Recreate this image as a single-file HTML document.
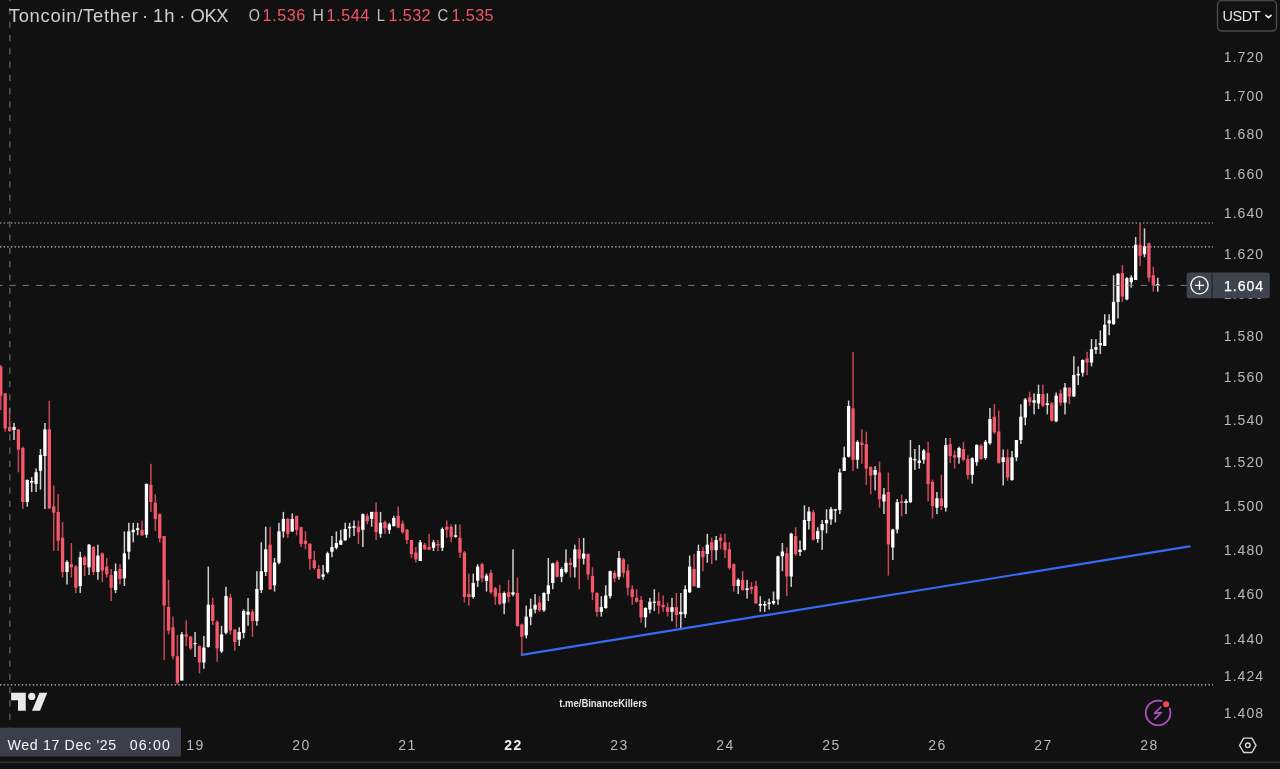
<!DOCTYPE html>
<html lang="en"><head><meta charset="utf-8"><title>TONUSDT 1h OKX</title>
<style>
html,body{margin:0;padding:0;background:#111111;}
body{width:1280px;height:769px;overflow:hidden;position:relative;font-family:"Liberation Sans",sans-serif;}
svg{position:absolute;left:0;top:0;display:block;will-change:transform;}
text{font-family:"Liberation Sans",sans-serif;}
.ax{font-size:14px;fill:#b9b9bb;}
.tm{font-size:14px;fill:#b9b9bb;}
</style></head><body>
<svg width="1280" height="769" viewBox="0 0 1280 769">
<line x1="0" y1="223.0" x2="1213" y2="223.0" stroke="#cdcdcd" stroke-width="1.2" stroke-dasharray="1.3 2.34"/>
<line x1="0" y1="246.9" x2="1213" y2="246.9" stroke="#cdcdcd" stroke-width="1.2" stroke-dasharray="1.3 2.34"/>
<line x1="0" y1="684.8" x2="1213" y2="684.8" stroke="#cdcdcd" stroke-width="1.2" stroke-dasharray="1.3 2.34"/>
<g style="filter:blur(0.3px)">
<rect x="0.00" y="365.0" width="1.5" height="45.0" fill="#f5586b" opacity="0.8"/>
<rect x="4.42" y="393.0" width="1.5" height="38.5" fill="#f5586b" opacity="0.8"/>
<rect x="8.83" y="408.0" width="1.5" height="24.0" fill="#f5586b" opacity="0.8"/>
<rect x="13.25" y="423.0" width="1.5" height="17.0" fill="#ffffff" opacity="0.8"/>
<rect x="17.66" y="429.4" width="1.5" height="42.9" fill="#f5586b" opacity="0.8"/>
<rect x="22.08" y="446.6" width="1.5" height="62.4" fill="#f5586b" opacity="0.8"/>
<rect x="26.50" y="479.4" width="1.5" height="27.3" fill="#ffffff" opacity="0.8"/>
<rect x="30.91" y="477.0" width="1.5" height="15.0" fill="#ffffff" opacity="0.8"/>
<rect x="35.33" y="468.4" width="1.5" height="23.6" fill="#ffffff" opacity="0.8"/>
<rect x="39.74" y="449.0" width="1.5" height="40.5" fill="#ffffff" opacity="0.8"/>
<rect x="44.16" y="423.0" width="1.5" height="86.0" fill="#ffffff" opacity="0.8"/>
<rect x="48.58" y="401.0" width="1.5" height="108.0" fill="#f5586b" opacity="0.8"/>
<rect x="52.99" y="485.6" width="1.5" height="65.4" fill="#f5586b" opacity="0.8"/>
<rect x="57.41" y="494.0" width="1.5" height="57.0" fill="#f5586b" opacity="0.8"/>
<rect x="61.82" y="522.0" width="1.5" height="55.5" fill="#f5586b" opacity="0.8"/>
<rect x="66.24" y="560.3" width="1.5" height="24.2" fill="#ffffff" opacity="0.8"/>
<rect x="70.66" y="543.0" width="1.5" height="34.5" fill="#f5586b" opacity="0.8"/>
<rect x="75.07" y="565.0" width="1.5" height="28.0" fill="#f5586b" opacity="0.8"/>
<rect x="79.49" y="551.7" width="1.5" height="41.3" fill="#ffffff" opacity="0.8"/>
<rect x="83.90" y="555.6" width="1.5" height="20.4" fill="#f5586b" opacity="0.8"/>
<rect x="88.32" y="544.0" width="1.5" height="31.0" fill="#ffffff" opacity="0.8"/>
<rect x="92.74" y="546.0" width="1.5" height="29.0" fill="#f5586b" opacity="0.8"/>
<rect x="97.15" y="544.7" width="1.5" height="35.1" fill="#ffffff" opacity="0.8"/>
<rect x="101.57" y="552.5" width="1.5" height="29.5" fill="#f5586b" opacity="0.8"/>
<rect x="105.98" y="558.0" width="1.5" height="19.5" fill="#f5586b" opacity="0.8"/>
<rect x="110.40" y="569.0" width="1.5" height="32.0" fill="#f5586b" opacity="0.8"/>
<rect x="114.82" y="563.4" width="1.5" height="29.6" fill="#ffffff" opacity="0.8"/>
<rect x="119.23" y="564.2" width="1.5" height="20.3" fill="#f5586b" opacity="0.8"/>
<rect x="123.65" y="531.4" width="1.5" height="54.6" fill="#ffffff" opacity="0.8"/>
<rect x="128.06" y="522.8" width="1.5" height="36.7" fill="#ffffff" opacity="0.8"/>
<rect x="132.48" y="522.8" width="1.5" height="19.5" fill="#ffffff" opacity="0.8"/>
<rect x="136.90" y="522.8" width="1.5" height="12.5" fill="#ffffff" opacity="0.8"/>
<rect x="141.31" y="520.5" width="1.5" height="15.5" fill="#f5586b" opacity="0.8"/>
<rect x="145.73" y="483.3" width="1.5" height="54.5" fill="#ffffff" opacity="0.8"/>
<rect x="150.14" y="463.8" width="1.5" height="48.2" fill="#f5586b" opacity="0.8"/>
<rect x="154.56" y="494.3" width="1.5" height="36.7" fill="#f5586b" opacity="0.8"/>
<rect x="158.98" y="513.4" width="1.5" height="28.9" fill="#f5586b" opacity="0.8"/>
<rect x="163.39" y="536.0" width="1.5" height="124.0" fill="#f5586b" opacity="0.8"/>
<rect x="167.81" y="579.8" width="1.5" height="54.6" fill="#f5586b" opacity="0.8"/>
<rect x="172.22" y="616.4" width="1.5" height="43.0" fill="#f5586b" opacity="0.8"/>
<rect x="176.64" y="635.0" width="1.5" height="49.4" fill="#f5586b" opacity="0.8"/>
<rect x="181.06" y="632.0" width="1.5" height="48.5" fill="#ffffff" opacity="0.8"/>
<rect x="185.47" y="620.3" width="1.5" height="25.7" fill="#f5586b" opacity="0.8"/>
<rect x="189.89" y="636.0" width="1.5" height="14.0" fill="#f5586b" opacity="0.8"/>
<rect x="194.30" y="632.0" width="1.5" height="25.0" fill="#ffffff" opacity="0.8"/>
<rect x="198.72" y="645.3" width="1.5" height="28.1" fill="#f5586b" opacity="0.8"/>
<rect x="203.14" y="636.0" width="1.5" height="32.8" fill="#ffffff" opacity="0.8"/>
<rect x="207.55" y="566.6" width="1.5" height="81.0" fill="#ffffff" opacity="0.8"/>
<rect x="211.97" y="597.7" width="1.5" height="27.3" fill="#f5586b" opacity="0.8"/>
<rect x="216.38" y="620.3" width="1.5" height="41.4" fill="#f5586b" opacity="0.8"/>
<rect x="220.80" y="625.8" width="1.5" height="27.2" fill="#ffffff" opacity="0.8"/>
<rect x="225.22" y="586.8" width="1.5" height="47.6" fill="#ffffff" opacity="0.8"/>
<rect x="229.63" y="593.9" width="1.5" height="40.5" fill="#f5586b" opacity="0.8"/>
<rect x="234.05" y="629.0" width="1.5" height="21.8" fill="#f5586b" opacity="0.8"/>
<rect x="238.46" y="627.3" width="1.5" height="18.7" fill="#ffffff" opacity="0.8"/>
<rect x="242.88" y="609.4" width="1.5" height="28.9" fill="#ffffff" opacity="0.8"/>
<rect x="247.30" y="598.0" width="1.5" height="27.8" fill="#ffffff" opacity="0.8"/>
<rect x="251.71" y="609.4" width="1.5" height="27.3" fill="#f5586b" opacity="0.8"/>
<rect x="256.13" y="571.2" width="1.5" height="54.5" fill="#ffffff" opacity="0.8"/>
<rect x="260.54" y="542.3" width="1.5" height="50.7" fill="#ffffff" opacity="0.8"/>
<rect x="264.96" y="526.7" width="1.5" height="49.3" fill="#ffffff" opacity="0.8"/>
<rect x="269.38" y="526.7" width="1.5" height="63.3" fill="#f5586b" opacity="0.8"/>
<rect x="273.79" y="558.0" width="1.5" height="33.5" fill="#ffffff" opacity="0.8"/>
<rect x="278.21" y="522.8" width="1.5" height="41.4" fill="#ffffff" opacity="0.8"/>
<rect x="282.62" y="511.9" width="1.5" height="25.8" fill="#ffffff" opacity="0.8"/>
<rect x="287.04" y="518.0" width="1.5" height="19.7" fill="#f5586b" opacity="0.8"/>
<rect x="291.46" y="513.4" width="1.5" height="18.6" fill="#ffffff" opacity="0.8"/>
<rect x="295.87" y="515.8" width="1.5" height="19.5" fill="#f5586b" opacity="0.8"/>
<rect x="300.29" y="526.7" width="1.5" height="20.3" fill="#f5586b" opacity="0.8"/>
<rect x="304.70" y="531.4" width="1.5" height="18.0" fill="#f5586b" opacity="0.8"/>
<rect x="309.12" y="543.0" width="1.5" height="26.7" fill="#f5586b" opacity="0.8"/>
<rect x="313.54" y="551.0" width="1.5" height="18.7" fill="#f5586b" opacity="0.8"/>
<rect x="317.95" y="565.0" width="1.5" height="14.0" fill="#f5586b" opacity="0.8"/>
<rect x="322.37" y="565.0" width="1.5" height="14.8" fill="#ffffff" opacity="0.8"/>
<rect x="326.78" y="551.7" width="1.5" height="21.9" fill="#ffffff" opacity="0.8"/>
<rect x="331.20" y="536.0" width="1.5" height="21.2" fill="#ffffff" opacity="0.8"/>
<rect x="335.62" y="531.4" width="1.5" height="18.0" fill="#ffffff" opacity="0.8"/>
<rect x="340.03" y="529.8" width="1.5" height="15.2" fill="#ffffff" opacity="0.8"/>
<rect x="344.45" y="522.8" width="1.5" height="18.0" fill="#ffffff" opacity="0.8"/>
<rect x="348.86" y="522.8" width="1.5" height="14.9" fill="#ffffff" opacity="0.8"/>
<rect x="353.28" y="520.5" width="1.5" height="15.5" fill="#ffffff" opacity="0.8"/>
<rect x="357.70" y="520.5" width="1.5" height="23.4" fill="#f5586b" opacity="0.8"/>
<rect x="362.11" y="513.4" width="1.5" height="33.6" fill="#ffffff" opacity="0.8"/>
<rect x="366.53" y="513.4" width="1.5" height="11.0" fill="#f5586b" opacity="0.8"/>
<rect x="370.94" y="511.9" width="1.5" height="14.8" fill="#ffffff" opacity="0.8"/>
<rect x="375.36" y="502.5" width="1.5" height="37.5" fill="#f5586b" opacity="0.8"/>
<rect x="379.78" y="511.9" width="1.5" height="25.8" fill="#ffffff" opacity="0.8"/>
<rect x="384.19" y="520.5" width="1.5" height="13.2" fill="#f5586b" opacity="0.8"/>
<rect x="388.61" y="522.8" width="1.5" height="11.0" fill="#ffffff" opacity="0.8"/>
<rect x="393.02" y="515.8" width="1.5" height="10.9" fill="#ffffff" opacity="0.8"/>
<rect x="397.44" y="506.4" width="1.5" height="21.9" fill="#f5586b" opacity="0.8"/>
<rect x="401.86" y="520.5" width="1.5" height="13.2" fill="#f5586b" opacity="0.8"/>
<rect x="406.27" y="529.0" width="1.5" height="15.0" fill="#f5586b" opacity="0.8"/>
<rect x="410.69" y="540.0" width="1.5" height="18.0" fill="#f5586b" opacity="0.8"/>
<rect x="415.10" y="547.0" width="1.5" height="15.7" fill="#f5586b" opacity="0.8"/>
<rect x="419.52" y="540.0" width="1.5" height="21.0" fill="#ffffff" opacity="0.8"/>
<rect x="423.94" y="543.0" width="1.5" height="7.0" fill="#f5586b" opacity="0.8"/>
<rect x="428.35" y="533.8" width="1.5" height="16.2" fill="#f5586b" opacity="0.8"/>
<rect x="432.77" y="540.0" width="1.5" height="11.0" fill="#ffffff" opacity="0.8"/>
<rect x="437.18" y="540.0" width="1.5" height="11.0" fill="#f5586b" opacity="0.8"/>
<rect x="441.60" y="527.5" width="1.5" height="23.5" fill="#ffffff" opacity="0.8"/>
<rect x="446.02" y="520.5" width="1.5" height="17.2" fill="#f5586b" opacity="0.8"/>
<rect x="450.43" y="524.4" width="1.5" height="17.9" fill="#f5586b" opacity="0.8"/>
<rect x="454.85" y="524.4" width="1.5" height="13.3" fill="#ffffff" opacity="0.8"/>
<rect x="459.26" y="524.4" width="1.5" height="33.6" fill="#f5586b" opacity="0.8"/>
<rect x="463.68" y="551.0" width="1.5" height="51.5" fill="#f5586b" opacity="0.8"/>
<rect x="468.10" y="573.6" width="1.5" height="32.0" fill="#f5586b" opacity="0.8"/>
<rect x="472.51" y="573.6" width="1.5" height="25.0" fill="#ffffff" opacity="0.8"/>
<rect x="476.93" y="564.2" width="1.5" height="22.7" fill="#ffffff" opacity="0.8"/>
<rect x="481.34" y="562.7" width="1.5" height="19.5" fill="#f5586b" opacity="0.8"/>
<rect x="485.76" y="573.6" width="1.5" height="18.0" fill="#ffffff" opacity="0.8"/>
<rect x="490.18" y="569.7" width="1.5" height="24.3" fill="#f5586b" opacity="0.8"/>
<rect x="494.59" y="586.9" width="1.5" height="17.9" fill="#f5586b" opacity="0.8"/>
<rect x="499.01" y="585.0" width="1.5" height="20.2" fill="#f5586b" opacity="0.8"/>
<rect x="503.42" y="591.6" width="1.5" height="22.6" fill="#ffffff" opacity="0.8"/>
<rect x="507.84" y="579.8" width="1.5" height="22.7" fill="#f5586b" opacity="0.8"/>
<rect x="512.26" y="549.4" width="1.5" height="46.9" fill="#ffffff" opacity="0.8"/>
<rect x="516.67" y="577.5" width="1.5" height="49.2" fill="#f5586b" opacity="0.8"/>
<rect x="521.09" y="623.6" width="1.5" height="32.0" fill="#f5586b" opacity="0.8"/>
<rect x="525.50" y="605.6" width="1.5" height="32.8" fill="#ffffff" opacity="0.8"/>
<rect x="529.92" y="598.6" width="1.5" height="26.6" fill="#ffffff" opacity="0.8"/>
<rect x="534.34" y="594.0" width="1.5" height="19.4" fill="#ffffff" opacity="0.8"/>
<rect x="538.75" y="596.2" width="1.5" height="15.6" fill="#f5586b" opacity="0.8"/>
<rect x="543.17" y="592.3" width="1.5" height="19.6" fill="#ffffff" opacity="0.8"/>
<rect x="547.58" y="558.0" width="1.5" height="43.0" fill="#ffffff" opacity="0.8"/>
<rect x="552.00" y="562.7" width="1.5" height="26.5" fill="#ffffff" opacity="0.8"/>
<rect x="556.42" y="560.3" width="1.5" height="17.2" fill="#f5586b" opacity="0.8"/>
<rect x="560.83" y="567.3" width="1.5" height="14.9" fill="#ffffff" opacity="0.8"/>
<rect x="565.25" y="549.4" width="1.5" height="24.2" fill="#ffffff" opacity="0.8"/>
<rect x="569.66" y="558.0" width="1.5" height="19.5" fill="#f5586b" opacity="0.8"/>
<rect x="574.08" y="544.7" width="1.5" height="32.8" fill="#ffffff" opacity="0.8"/>
<rect x="578.50" y="538.0" width="1.5" height="51.2" fill="#f5586b" opacity="0.8"/>
<rect x="582.91" y="538.0" width="1.5" height="26.5" fill="#ffffff" opacity="0.8"/>
<rect x="587.33" y="553.3" width="1.5" height="26.5" fill="#f5586b" opacity="0.8"/>
<rect x="591.74" y="567.3" width="1.5" height="32.7" fill="#f5586b" opacity="0.8"/>
<rect x="596.16" y="592.3" width="1.5" height="24.3" fill="#f5586b" opacity="0.8"/>
<rect x="600.58" y="596.2" width="1.5" height="20.4" fill="#ffffff" opacity="0.8"/>
<rect x="604.99" y="585.3" width="1.5" height="23.5" fill="#ffffff" opacity="0.8"/>
<rect x="609.41" y="570.5" width="1.5" height="28.1" fill="#ffffff" opacity="0.8"/>
<rect x="613.82" y="570.5" width="1.5" height="11.7" fill="#f5586b" opacity="0.8"/>
<rect x="618.24" y="551.0" width="1.5" height="28.8" fill="#ffffff" opacity="0.8"/>
<rect x="622.66" y="558.0" width="1.5" height="19.5" fill="#f5586b" opacity="0.8"/>
<rect x="627.07" y="564.2" width="1.5" height="31.3" fill="#f5586b" opacity="0.8"/>
<rect x="631.49" y="585.3" width="1.5" height="19.5" fill="#f5586b" opacity="0.8"/>
<rect x="635.90" y="589.2" width="1.5" height="13.3" fill="#f5586b" opacity="0.8"/>
<rect x="640.32" y="596.2" width="1.5" height="26.5" fill="#f5586b" opacity="0.8"/>
<rect x="644.74" y="607.2" width="1.5" height="20.3" fill="#ffffff" opacity="0.8"/>
<rect x="649.15" y="597.8" width="1.5" height="15.6" fill="#ffffff" opacity="0.8"/>
<rect x="653.57" y="589.2" width="1.5" height="21.8" fill="#ffffff" opacity="0.8"/>
<rect x="657.98" y="592.3" width="1.5" height="21.9" fill="#f5586b" opacity="0.8"/>
<rect x="662.40" y="595.5" width="1.5" height="16.4" fill="#f5586b" opacity="0.8"/>
<rect x="666.82" y="602.5" width="1.5" height="14.1" fill="#f5586b" opacity="0.8"/>
<rect x="671.23" y="597.8" width="1.5" height="23.5" fill="#ffffff" opacity="0.8"/>
<rect x="675.65" y="593.0" width="1.5" height="34.5" fill="#f5586b" opacity="0.8"/>
<rect x="680.06" y="593.0" width="1.5" height="36.8" fill="#ffffff" opacity="0.8"/>
<rect x="684.48" y="585.3" width="1.5" height="32.7" fill="#ffffff" opacity="0.8"/>
<rect x="688.90" y="555.6" width="1.5" height="37.4" fill="#ffffff" opacity="0.8"/>
<rect x="693.31" y="554.0" width="1.5" height="32.9" fill="#f5586b" opacity="0.8"/>
<rect x="697.73" y="544.7" width="1.5" height="43.0" fill="#ffffff" opacity="0.8"/>
<rect x="702.14" y="547.0" width="1.5" height="24.2" fill="#f5586b" opacity="0.8"/>
<rect x="706.56" y="533.8" width="1.5" height="29.0" fill="#ffffff" opacity="0.8"/>
<rect x="710.98" y="537.7" width="1.5" height="26.5" fill="#f5586b" opacity="0.8"/>
<rect x="715.39" y="536.0" width="1.5" height="24.3" fill="#ffffff" opacity="0.8"/>
<rect x="719.81" y="533.8" width="1.5" height="15.6" fill="#f5586b" opacity="0.8"/>
<rect x="724.22" y="533.8" width="1.5" height="24.2" fill="#f5586b" opacity="0.8"/>
<rect x="728.64" y="542.3" width="1.5" height="27.4" fill="#f5586b" opacity="0.8"/>
<rect x="733.06" y="563.4" width="1.5" height="28.2" fill="#f5586b" opacity="0.8"/>
<rect x="737.47" y="578.3" width="1.5" height="15.7" fill="#ffffff" opacity="0.8"/>
<rect x="741.89" y="571.2" width="1.5" height="19.5" fill="#f5586b" opacity="0.8"/>
<rect x="746.30" y="579.8" width="1.5" height="18.8" fill="#ffffff" opacity="0.8"/>
<rect x="750.72" y="582.2" width="1.5" height="11.8" fill="#f5586b" opacity="0.8"/>
<rect x="755.14" y="580.6" width="1.5" height="23.4" fill="#f5586b" opacity="0.8"/>
<rect x="759.55" y="596.2" width="1.5" height="15.6" fill="#ffffff" opacity="0.8"/>
<rect x="763.97" y="601.0" width="1.5" height="10.9" fill="#ffffff" opacity="0.8"/>
<rect x="768.38" y="598.6" width="1.5" height="10.9" fill="#ffffff" opacity="0.8"/>
<rect x="772.80" y="591.6" width="1.5" height="13.2" fill="#ffffff" opacity="0.8"/>
<rect x="777.22" y="555.6" width="1.5" height="49.2" fill="#ffffff" opacity="0.8"/>
<rect x="781.63" y="543.0" width="1.5" height="28.1" fill="#ffffff" opacity="0.8"/>
<rect x="786.05" y="547.2" width="1.5" height="49.0" fill="#f5586b" opacity="0.8"/>
<rect x="790.46" y="532.8" width="1.5" height="54.1" fill="#ffffff" opacity="0.8"/>
<rect x="794.88" y="527.3" width="1.5" height="28.5" fill="#f5586b" opacity="0.8"/>
<rect x="799.30" y="540.5" width="1.5" height="15.5" fill="#ffffff" opacity="0.8"/>
<rect x="803.71" y="505.3" width="1.5" height="45.3" fill="#ffffff" opacity="0.8"/>
<rect x="808.13" y="506.9" width="1.5" height="22.6" fill="#ffffff" opacity="0.8"/>
<rect x="812.54" y="510.0" width="1.5" height="30.5" fill="#f5586b" opacity="0.8"/>
<rect x="816.96" y="527.2" width="1.5" height="15.6" fill="#ffffff" opacity="0.8"/>
<rect x="821.38" y="520.0" width="1.5" height="29.8" fill="#ffffff" opacity="0.8"/>
<rect x="825.79" y="509.2" width="1.5" height="24.2" fill="#ffffff" opacity="0.8"/>
<rect x="830.21" y="506.9" width="1.5" height="17.9" fill="#ffffff" opacity="0.8"/>
<rect x="834.62" y="509.2" width="1.5" height="13.3" fill="#ffffff" opacity="0.8"/>
<rect x="839.04" y="468.6" width="1.5" height="45.4" fill="#ffffff" opacity="0.8"/>
<rect x="843.46" y="446.6" width="1.5" height="24.4" fill="#ffffff" opacity="0.8"/>
<rect x="847.87" y="400.5" width="1.5" height="57.0" fill="#ffffff" opacity="0.8"/>
<rect x="852.29" y="352.0" width="1.5" height="119.0" fill="#f5586b" opacity="0.8"/>
<rect x="856.70" y="440.3" width="1.5" height="28.3" fill="#ffffff" opacity="0.8"/>
<rect x="861.12" y="429.4" width="1.5" height="34.4" fill="#f5586b" opacity="0.8"/>
<rect x="865.54" y="431.7" width="1.5" height="53.3" fill="#f5586b" opacity="0.8"/>
<rect x="869.95" y="466.2" width="1.5" height="28.1" fill="#f5586b" opacity="0.8"/>
<rect x="874.37" y="466.2" width="1.5" height="24.2" fill="#ffffff" opacity="0.8"/>
<rect x="878.78" y="461.5" width="1.5" height="46.2" fill="#f5586b" opacity="0.8"/>
<rect x="883.20" y="488.0" width="1.5" height="26.0" fill="#ffffff" opacity="0.8"/>
<rect x="887.62" y="472.5" width="1.5" height="103.1" fill="#f5586b" opacity="0.8"/>
<rect x="892.03" y="528.8" width="1.5" height="31.2" fill="#ffffff" opacity="0.8"/>
<rect x="896.45" y="499.0" width="1.5" height="34.4" fill="#ffffff" opacity="0.8"/>
<rect x="900.86" y="494.4" width="1.5" height="21.9" fill="#f5586b" opacity="0.8"/>
<rect x="905.28" y="499.0" width="1.5" height="15.0" fill="#ffffff" opacity="0.8"/>
<rect x="909.70" y="440.0" width="1.5" height="63.0" fill="#ffffff" opacity="0.8"/>
<rect x="914.11" y="449.0" width="1.5" height="21.0" fill="#ffffff" opacity="0.8"/>
<rect x="918.53" y="445.0" width="1.5" height="23.6" fill="#ffffff" opacity="0.8"/>
<rect x="922.94" y="449.0" width="1.5" height="14.8" fill="#ffffff" opacity="0.8"/>
<rect x="927.36" y="441.9" width="1.5" height="59.5" fill="#f5586b" opacity="0.8"/>
<rect x="931.78" y="479.5" width="1.5" height="39.1" fill="#f5586b" opacity="0.8"/>
<rect x="936.19" y="492.0" width="1.5" height="22.0" fill="#ffffff" opacity="0.8"/>
<rect x="940.61" y="474.8" width="1.5" height="35.2" fill="#f5586b" opacity="0.8"/>
<rect x="945.02" y="438.0" width="1.5" height="73.6" fill="#ffffff" opacity="0.8"/>
<rect x="949.44" y="438.0" width="1.5" height="25.0" fill="#f5586b" opacity="0.8"/>
<rect x="953.86" y="450.5" width="1.5" height="18.1" fill="#f5586b" opacity="0.8"/>
<rect x="958.27" y="446.6" width="1.5" height="17.1" fill="#ffffff" opacity="0.8"/>
<rect x="962.69" y="441.9" width="1.5" height="19.5" fill="#f5586b" opacity="0.8"/>
<rect x="967.10" y="455.2" width="1.5" height="24.2" fill="#f5586b" opacity="0.8"/>
<rect x="971.52" y="457.3" width="1.5" height="26.4" fill="#ffffff" opacity="0.8"/>
<rect x="975.94" y="444.2" width="1.5" height="21.6" fill="#ffffff" opacity="0.8"/>
<rect x="980.35" y="444.0" width="1.5" height="15.7" fill="#f5586b" opacity="0.8"/>
<rect x="984.77" y="440.0" width="1.5" height="19.7" fill="#ffffff" opacity="0.8"/>
<rect x="989.18" y="408.0" width="1.5" height="36.8" fill="#ffffff" opacity="0.8"/>
<rect x="993.60" y="404.2" width="1.5" height="29.8" fill="#f5586b" opacity="0.8"/>
<rect x="998.02" y="410.5" width="1.5" height="53.1" fill="#f5586b" opacity="0.8"/>
<rect x="1002.43" y="449.5" width="1.5" height="36.0" fill="#ffffff" opacity="0.8"/>
<rect x="1006.85" y="449.5" width="1.5" height="31.3" fill="#f5586b" opacity="0.8"/>
<rect x="1011.26" y="451.0" width="1.5" height="29.8" fill="#ffffff" opacity="0.8"/>
<rect x="1015.68" y="440.0" width="1.5" height="21.2" fill="#ffffff" opacity="0.8"/>
<rect x="1020.10" y="404.2" width="1.5" height="39.8" fill="#ffffff" opacity="0.8"/>
<rect x="1024.51" y="398.0" width="1.5" height="27.3" fill="#ffffff" opacity="0.8"/>
<rect x="1028.93" y="391.7" width="1.5" height="14.1" fill="#f5586b" opacity="0.8"/>
<rect x="1033.34" y="393.3" width="1.5" height="21.1" fill="#ffffff" opacity="0.8"/>
<rect x="1037.76" y="384.7" width="1.5" height="24.3" fill="#ffffff" opacity="0.8"/>
<rect x="1042.18" y="384.7" width="1.5" height="22.6" fill="#f5586b" opacity="0.8"/>
<rect x="1046.59" y="393.3" width="1.5" height="21.1" fill="#ffffff" opacity="0.8"/>
<rect x="1051.01" y="402.0" width="1.5" height="19.4" fill="#f5586b" opacity="0.8"/>
<rect x="1055.42" y="392.5" width="1.5" height="29.7" fill="#ffffff" opacity="0.8"/>
<rect x="1059.84" y="389.5" width="1.5" height="16.3" fill="#f5586b" opacity="0.8"/>
<rect x="1064.26" y="383.0" width="1.5" height="31.4" fill="#ffffff" opacity="0.8"/>
<rect x="1068.67" y="387.0" width="1.5" height="17.2" fill="#f5586b" opacity="0.8"/>
<rect x="1073.09" y="356.2" width="1.5" height="40.9" fill="#ffffff" opacity="0.8"/>
<rect x="1077.50" y="366.4" width="1.5" height="18.6" fill="#ffffff" opacity="0.8"/>
<rect x="1081.92" y="359.4" width="1.5" height="17.2" fill="#ffffff" opacity="0.8"/>
<rect x="1086.34" y="351.8" width="1.5" height="23.4" fill="#f5586b" opacity="0.8"/>
<rect x="1090.75" y="339.0" width="1.5" height="27.4" fill="#ffffff" opacity="0.8"/>
<rect x="1095.17" y="339.0" width="1.5" height="15.0" fill="#ffffff" opacity="0.8"/>
<rect x="1099.58" y="330.5" width="1.5" height="23.5" fill="#ffffff" opacity="0.8"/>
<rect x="1104.00" y="314.2" width="1.5" height="31.8" fill="#ffffff" opacity="0.8"/>
<rect x="1108.42" y="314.2" width="1.5" height="21.0" fill="#ffffff" opacity="0.8"/>
<rect x="1112.83" y="275.3" width="1.5" height="49.7" fill="#ffffff" opacity="0.8"/>
<rect x="1117.25" y="273.0" width="1.5" height="45.5" fill="#ffffff" opacity="0.8"/>
<rect x="1121.66" y="265.2" width="1.5" height="36.6" fill="#f5586b" opacity="0.8"/>
<rect x="1126.08" y="277.0" width="1.5" height="23.3" fill="#ffffff" opacity="0.8"/>
<rect x="1130.50" y="275.3" width="1.5" height="12.4" fill="#ffffff" opacity="0.8"/>
<rect x="1134.91" y="237.0" width="1.5" height="43.0" fill="#ffffff" opacity="0.8"/>
<rect x="1139.33" y="223.0" width="1.5" height="43.0" fill="#f5586b" opacity="0.8"/>
<rect x="1143.74" y="228.4" width="1.5" height="28.9" fill="#ffffff" opacity="0.8"/>
<rect x="1148.16" y="242.5" width="1.5" height="39.1" fill="#f5586b" opacity="0.8"/>
<rect x="1152.58" y="266.7" width="1.5" height="25.0" fill="#f5586b" opacity="0.8"/>
<rect x="1156.99" y="277.7" width="1.5" height="14.0" fill="#ffffff" opacity="0.8"/>
<rect x="0.00" y="366.7" width="2.40" height="28.9" fill="#f5586b"/>
<rect x="3.52" y="393.5" width="3.30" height="35.0" fill="#f5586b"/>
<rect x="7.93" y="427.0" width="3.30" height="4.0" fill="#f5586b"/>
<rect x="12.35" y="427.0" width="3.30" height="3.0" fill="#ffffff"/>
<rect x="16.76" y="429.4" width="3.30" height="20.3" fill="#f5586b"/>
<rect x="21.18" y="448.0" width="3.30" height="54.0" fill="#f5586b"/>
<rect x="25.60" y="480.0" width="3.30" height="22.0" fill="#ffffff"/>
<rect x="30.01" y="481.0" width="3.30" height="1.5" fill="#ffffff"/>
<rect x="34.43" y="472.3" width="3.30" height="11.7" fill="#ffffff"/>
<rect x="38.84" y="455.0" width="3.30" height="15.8" fill="#ffffff"/>
<rect x="43.26" y="429.4" width="3.30" height="26.6" fill="#ffffff"/>
<rect x="47.68" y="429.4" width="3.30" height="78.9" fill="#f5586b"/>
<rect x="52.09" y="506.4" width="3.30" height="6.3" fill="#f5586b"/>
<rect x="56.51" y="511.9" width="3.30" height="28.9" fill="#f5586b"/>
<rect x="60.92" y="537.7" width="3.30" height="34.3" fill="#f5586b"/>
<rect x="65.34" y="561.9" width="3.30" height="10.1" fill="#ffffff"/>
<rect x="69.76" y="564.2" width="3.30" height="3.1" fill="#f5586b"/>
<rect x="74.17" y="566.6" width="3.30" height="21.1" fill="#f5586b"/>
<rect x="78.59" y="557.2" width="3.30" height="28.8" fill="#ffffff"/>
<rect x="83.00" y="557.2" width="3.30" height="7.8" fill="#f5586b"/>
<rect x="87.42" y="544.7" width="3.30" height="22.6" fill="#ffffff"/>
<rect x="91.84" y="547.0" width="3.30" height="25.0" fill="#f5586b"/>
<rect x="96.25" y="555.6" width="3.30" height="16.4" fill="#ffffff"/>
<rect x="100.67" y="553.3" width="3.30" height="17.2" fill="#f5586b"/>
<rect x="105.08" y="566.6" width="3.30" height="7.8" fill="#f5586b"/>
<rect x="109.50" y="575.0" width="3.30" height="12.7" fill="#f5586b"/>
<rect x="113.92" y="571.2" width="3.30" height="18.8" fill="#ffffff"/>
<rect x="118.33" y="569.0" width="3.30" height="10.0" fill="#f5586b"/>
<rect x="122.75" y="553.3" width="3.30" height="25.0" fill="#ffffff"/>
<rect x="127.16" y="531.4" width="3.30" height="20.3" fill="#ffffff"/>
<rect x="131.58" y="529.8" width="3.30" height="2.4" fill="#ffffff"/>
<rect x="136.00" y="528.3" width="3.30" height="1.7" fill="#ffffff"/>
<rect x="140.41" y="529.8" width="3.30" height="5.5" fill="#f5586b"/>
<rect x="144.83" y="484.0" width="3.30" height="50.6" fill="#ffffff"/>
<rect x="149.24" y="484.8" width="3.30" height="17.2" fill="#f5586b"/>
<rect x="153.66" y="502.6" width="3.30" height="16.4" fill="#f5586b"/>
<rect x="158.08" y="514.0" width="3.30" height="24.4" fill="#f5586b"/>
<rect x="162.49" y="536.0" width="3.30" height="69.6" fill="#f5586b"/>
<rect x="166.91" y="607.0" width="3.30" height="23.5" fill="#f5586b"/>
<rect x="171.32" y="627.3" width="3.30" height="29.0" fill="#f5586b"/>
<rect x="175.74" y="656.2" width="3.30" height="26.5" fill="#f5586b"/>
<rect x="180.16" y="634.4" width="3.30" height="46.1" fill="#ffffff"/>
<rect x="184.57" y="634.4" width="3.30" height="2.3" fill="#f5586b"/>
<rect x="188.99" y="636.7" width="3.30" height="11.7" fill="#f5586b"/>
<rect x="193.40" y="643.0" width="3.30" height="1.2" fill="#ffffff"/>
<rect x="197.82" y="646.0" width="3.30" height="16.5" fill="#f5586b"/>
<rect x="202.24" y="647.6" width="3.30" height="14.9" fill="#ffffff"/>
<rect x="206.65" y="604.7" width="3.30" height="42.2" fill="#ffffff"/>
<rect x="211.07" y="604.7" width="3.30" height="16.3" fill="#f5586b"/>
<rect x="215.48" y="621.9" width="3.30" height="26.5" fill="#f5586b"/>
<rect x="219.90" y="634.4" width="3.30" height="17.1" fill="#ffffff"/>
<rect x="224.32" y="596.0" width="3.30" height="36.8" fill="#ffffff"/>
<rect x="228.73" y="597.7" width="3.30" height="32.8" fill="#f5586b"/>
<rect x="233.15" y="629.7" width="3.30" height="12.5" fill="#f5586b"/>
<rect x="237.56" y="632.0" width="3.30" height="7.8" fill="#ffffff"/>
<rect x="241.98" y="611.0" width="3.30" height="21.8" fill="#ffffff"/>
<rect x="246.40" y="611.7" width="3.30" height="3.1" fill="#ffffff"/>
<rect x="250.81" y="611.7" width="3.30" height="9.3" fill="#f5586b"/>
<rect x="255.23" y="589.0" width="3.30" height="32.0" fill="#ffffff"/>
<rect x="259.64" y="571.2" width="3.30" height="18.8" fill="#ffffff"/>
<rect x="264.06" y="549.4" width="3.30" height="22.6" fill="#ffffff"/>
<rect x="268.48" y="544.7" width="3.30" height="44.5" fill="#f5586b"/>
<rect x="272.89" y="562.7" width="3.30" height="22.6" fill="#ffffff"/>
<rect x="277.31" y="531.4" width="3.30" height="31.3" fill="#ffffff"/>
<rect x="281.72" y="518.9" width="3.30" height="12.5" fill="#ffffff"/>
<rect x="286.14" y="518.9" width="3.30" height="14.9" fill="#f5586b"/>
<rect x="290.56" y="518.9" width="3.30" height="12.5" fill="#ffffff"/>
<rect x="294.97" y="515.8" width="3.30" height="14.0" fill="#f5586b"/>
<rect x="299.39" y="527.2" width="3.30" height="16.7" fill="#f5586b"/>
<rect x="303.80" y="540.8" width="3.30" height="3.1" fill="#f5586b"/>
<rect x="308.22" y="543.9" width="3.30" height="14.9" fill="#f5586b"/>
<rect x="312.64" y="560.3" width="3.30" height="7.7" fill="#f5586b"/>
<rect x="317.05" y="569.0" width="3.30" height="9.3" fill="#f5586b"/>
<rect x="321.47" y="574.4" width="3.30" height="2.3" fill="#ffffff"/>
<rect x="325.88" y="553.3" width="3.30" height="18.7" fill="#ffffff"/>
<rect x="330.30" y="547.0" width="3.30" height="4.7" fill="#ffffff"/>
<rect x="334.72" y="543.0" width="3.30" height="4.8" fill="#ffffff"/>
<rect x="339.13" y="540.3" width="3.30" height="4.4" fill="#ffffff"/>
<rect x="343.55" y="529.0" width="3.30" height="11.3" fill="#ffffff"/>
<rect x="347.96" y="526.7" width="3.30" height="1.6" fill="#ffffff"/>
<rect x="352.38" y="526.2" width="3.30" height="1.5" fill="#ffffff"/>
<rect x="356.80" y="526.7" width="3.30" height="5.5" fill="#f5586b"/>
<rect x="361.21" y="514.2" width="3.30" height="15.6" fill="#ffffff"/>
<rect x="365.63" y="515.8" width="3.30" height="5.5" fill="#f5586b"/>
<rect x="370.04" y="511.9" width="3.30" height="7.0" fill="#ffffff"/>
<rect x="374.46" y="511.9" width="3.30" height="20.3" fill="#f5586b"/>
<rect x="378.88" y="522.8" width="3.30" height="11.0" fill="#ffffff"/>
<rect x="383.29" y="522.0" width="3.30" height="6.3" fill="#f5586b"/>
<rect x="387.71" y="524.4" width="3.30" height="5.4" fill="#ffffff"/>
<rect x="392.12" y="518.0" width="3.30" height="8.0" fill="#ffffff"/>
<rect x="396.54" y="515.8" width="3.30" height="11.7" fill="#f5586b"/>
<rect x="400.96" y="523.6" width="3.30" height="8.6" fill="#f5586b"/>
<rect x="405.37" y="529.8" width="3.30" height="10.2" fill="#f5586b"/>
<rect x="409.79" y="540.0" width="3.30" height="14.0" fill="#f5586b"/>
<rect x="414.20" y="552.5" width="3.30" height="7.0" fill="#f5586b"/>
<rect x="418.62" y="542.3" width="3.30" height="18.7" fill="#ffffff"/>
<rect x="423.04" y="544.7" width="3.30" height="4.7" fill="#f5586b"/>
<rect x="427.45" y="547.0" width="3.30" height="2.7" fill="#f5586b"/>
<rect x="431.87" y="542.3" width="3.30" height="5.5" fill="#ffffff"/>
<rect x="436.28" y="544.0" width="3.30" height="1.5" fill="#f5586b"/>
<rect x="440.70" y="529.0" width="3.30" height="18.8" fill="#ffffff"/>
<rect x="445.12" y="526.7" width="3.30" height="3.1" fill="#f5586b"/>
<rect x="449.53" y="526.7" width="3.30" height="10.2" fill="#f5586b"/>
<rect x="453.95" y="535.3" width="3.30" height="1.6" fill="#ffffff"/>
<rect x="458.36" y="537.7" width="3.30" height="14.8" fill="#f5586b"/>
<rect x="462.78" y="552.5" width="3.30" height="44.5" fill="#f5586b"/>
<rect x="467.20" y="594.0" width="3.30" height="3.0" fill="#f5586b"/>
<rect x="471.61" y="583.0" width="3.30" height="14.0" fill="#ffffff"/>
<rect x="476.03" y="566.6" width="3.30" height="14.0" fill="#ffffff"/>
<rect x="480.44" y="564.2" width="3.30" height="14.1" fill="#f5586b"/>
<rect x="484.86" y="575.6" width="3.30" height="5.4" fill="#ffffff"/>
<rect x="489.28" y="572.8" width="3.30" height="19.5" fill="#f5586b"/>
<rect x="493.69" y="588.4" width="3.30" height="8.2" fill="#f5586b"/>
<rect x="498.11" y="593.0" width="3.30" height="11.0" fill="#f5586b"/>
<rect x="502.52" y="593.0" width="3.30" height="10.3" fill="#ffffff"/>
<rect x="506.94" y="592.3" width="3.30" height="4.7" fill="#f5586b"/>
<rect x="511.36" y="592.3" width="3.30" height="2.2" fill="#ffffff"/>
<rect x="515.77" y="593.0" width="3.30" height="33.0" fill="#f5586b"/>
<rect x="520.19" y="624.4" width="3.30" height="12.5" fill="#f5586b"/>
<rect x="524.60" y="616.6" width="3.30" height="18.7" fill="#ffffff"/>
<rect x="529.02" y="608.8" width="3.30" height="7.9" fill="#ffffff"/>
<rect x="533.44" y="604.8" width="3.30" height="4.7" fill="#ffffff"/>
<rect x="537.85" y="602.5" width="3.30" height="7.8" fill="#f5586b"/>
<rect x="542.27" y="593.0" width="3.30" height="17.3" fill="#ffffff"/>
<rect x="546.68" y="585.3" width="3.30" height="8.7" fill="#ffffff"/>
<rect x="551.10" y="563.4" width="3.30" height="19.6" fill="#ffffff"/>
<rect x="555.52" y="561.9" width="3.30" height="14.8" fill="#f5586b"/>
<rect x="559.93" y="569.0" width="3.30" height="7.7" fill="#ffffff"/>
<rect x="564.35" y="562.7" width="3.30" height="9.3" fill="#ffffff"/>
<rect x="568.76" y="562.7" width="3.30" height="2.3" fill="#f5586b"/>
<rect x="573.18" y="549.4" width="3.30" height="17.9" fill="#ffffff"/>
<rect x="577.60" y="549.3" width="3.30" height="9.4" fill="#f5586b"/>
<rect x="582.01" y="553.6" width="3.30" height="5.1" fill="#ffffff"/>
<rect x="586.43" y="554.0" width="3.30" height="20.4" fill="#f5586b"/>
<rect x="590.84" y="576.0" width="3.30" height="16.3" fill="#f5586b"/>
<rect x="595.26" y="593.0" width="3.30" height="18.9" fill="#f5586b"/>
<rect x="599.68" y="607.2" width="3.30" height="4.7" fill="#ffffff"/>
<rect x="604.09" y="595.5" width="3.30" height="12.5" fill="#ffffff"/>
<rect x="608.51" y="571.2" width="3.30" height="25.0" fill="#ffffff"/>
<rect x="612.92" y="572.8" width="3.30" height="5.5" fill="#f5586b"/>
<rect x="617.34" y="558.0" width="3.30" height="18.7" fill="#ffffff"/>
<rect x="621.76" y="559.5" width="3.30" height="13.3" fill="#f5586b"/>
<rect x="626.17" y="570.5" width="3.30" height="17.2" fill="#f5586b"/>
<rect x="630.59" y="589.2" width="3.30" height="7.8" fill="#f5586b"/>
<rect x="635.00" y="597.8" width="3.30" height="3.9" fill="#f5586b"/>
<rect x="639.42" y="600.0" width="3.30" height="17.3" fill="#f5586b"/>
<rect x="643.84" y="608.0" width="3.30" height="9.3" fill="#ffffff"/>
<rect x="648.25" y="601.7" width="3.30" height="7.8" fill="#ffffff"/>
<rect x="652.67" y="601.7" width="3.30" height="1.2" fill="#ffffff"/>
<rect x="657.08" y="601.0" width="3.30" height="4.6" fill="#f5586b"/>
<rect x="661.50" y="604.8" width="3.30" height="2.4" fill="#f5586b"/>
<rect x="665.92" y="607.2" width="3.30" height="4.7" fill="#f5586b"/>
<rect x="670.33" y="607.2" width="3.30" height="4.7" fill="#ffffff"/>
<rect x="674.75" y="607.2" width="3.30" height="7.8" fill="#f5586b"/>
<rect x="679.16" y="611.9" width="3.30" height="2.3" fill="#ffffff"/>
<rect x="683.58" y="589.2" width="3.30" height="25.0" fill="#ffffff"/>
<rect x="688.00" y="566.6" width="3.30" height="25.7" fill="#ffffff"/>
<rect x="692.41" y="569.0" width="3.30" height="17.0" fill="#f5586b"/>
<rect x="696.83" y="551.0" width="3.30" height="36.7" fill="#ffffff"/>
<rect x="701.24" y="551.0" width="3.30" height="6.2" fill="#f5586b"/>
<rect x="705.66" y="544.7" width="3.30" height="9.3" fill="#ffffff"/>
<rect x="710.08" y="542.3" width="3.30" height="7.9" fill="#f5586b"/>
<rect x="714.49" y="540.0" width="3.30" height="10.2" fill="#ffffff"/>
<rect x="718.91" y="537.7" width="3.30" height="3.1" fill="#f5586b"/>
<rect x="723.32" y="542.3" width="3.30" height="7.9" fill="#f5586b"/>
<rect x="727.74" y="549.4" width="3.30" height="18.6" fill="#f5586b"/>
<rect x="732.16" y="564.2" width="3.30" height="21.8" fill="#f5586b"/>
<rect x="736.57" y="579.8" width="3.30" height="6.2" fill="#ffffff"/>
<rect x="740.99" y="579.8" width="3.30" height="10.2" fill="#f5586b"/>
<rect x="745.40" y="588.4" width="3.30" height="1.6" fill="#ffffff"/>
<rect x="749.82" y="586.9" width="3.30" height="2.3" fill="#f5586b"/>
<rect x="754.24" y="586.0" width="3.30" height="17.3" fill="#f5586b"/>
<rect x="758.65" y="604.0" width="3.30" height="1.6" fill="#ffffff"/>
<rect x="763.07" y="604.0" width="3.30" height="1.6" fill="#ffffff"/>
<rect x="767.48" y="602.5" width="3.30" height="1.5" fill="#ffffff"/>
<rect x="771.90" y="601.0" width="3.30" height="2.3" fill="#ffffff"/>
<rect x="776.32" y="556.4" width="3.30" height="43.0" fill="#ffffff"/>
<rect x="780.73" y="551.5" width="3.30" height="4.7" fill="#ffffff"/>
<rect x="785.15" y="553.2" width="3.30" height="23.3" fill="#f5586b"/>
<rect x="789.56" y="533.6" width="3.30" height="42.9" fill="#ffffff"/>
<rect x="793.98" y="536.0" width="3.30" height="18.2" fill="#f5586b"/>
<rect x="798.40" y="549.6" width="3.30" height="2.4" fill="#ffffff"/>
<rect x="802.81" y="520.0" width="3.30" height="29.8" fill="#ffffff"/>
<rect x="807.23" y="511.5" width="3.30" height="9.5" fill="#ffffff"/>
<rect x="811.64" y="512.3" width="3.30" height="27.4" fill="#f5586b"/>
<rect x="816.06" y="531.0" width="3.30" height="8.0" fill="#ffffff"/>
<rect x="820.48" y="524.0" width="3.30" height="6.3" fill="#ffffff"/>
<rect x="824.89" y="520.0" width="3.30" height="3.3" fill="#ffffff"/>
<rect x="829.31" y="509.2" width="3.30" height="10.2" fill="#ffffff"/>
<rect x="833.72" y="509.2" width="3.30" height="1.3" fill="#ffffff"/>
<rect x="838.14" y="472.5" width="3.30" height="37.5" fill="#ffffff"/>
<rect x="842.56" y="457.5" width="3.30" height="13.5" fill="#ffffff"/>
<rect x="846.97" y="406.0" width="3.30" height="50.7" fill="#ffffff"/>
<rect x="851.39" y="408.3" width="3.30" height="51.5" fill="#f5586b"/>
<rect x="855.80" y="441.9" width="3.30" height="17.9" fill="#ffffff"/>
<rect x="860.22" y="442.7" width="3.30" height="2.3" fill="#f5586b"/>
<rect x="864.64" y="444.2" width="3.30" height="24.4" fill="#f5586b"/>
<rect x="869.05" y="467.0" width="3.30" height="8.6" fill="#f5586b"/>
<rect x="873.47" y="470.0" width="3.30" height="4.8" fill="#ffffff"/>
<rect x="877.88" y="472.5" width="3.30" height="26.5" fill="#f5586b"/>
<rect x="882.30" y="494.4" width="3.30" height="7.0" fill="#ffffff"/>
<rect x="886.72" y="492.0" width="3.30" height="52.4" fill="#f5586b"/>
<rect x="891.13" y="529.5" width="3.30" height="18.0" fill="#ffffff"/>
<rect x="895.55" y="502.2" width="3.30" height="27.3" fill="#ffffff"/>
<rect x="899.96" y="501.4" width="3.30" height="1.6" fill="#f5586b"/>
<rect x="904.38" y="501.0" width="3.30" height="2.0" fill="#ffffff"/>
<rect x="908.80" y="457.5" width="3.30" height="44.7" fill="#ffffff"/>
<rect x="913.21" y="459.0" width="3.30" height="1.3" fill="#ffffff"/>
<rect x="917.63" y="460.6" width="3.30" height="2.4" fill="#ffffff"/>
<rect x="922.04" y="450.5" width="3.30" height="9.3" fill="#ffffff"/>
<rect x="926.46" y="452.8" width="3.30" height="31.4" fill="#f5586b"/>
<rect x="930.88" y="481.9" width="3.30" height="24.1" fill="#f5586b"/>
<rect x="935.29" y="498.3" width="3.30" height="9.4" fill="#ffffff"/>
<rect x="939.71" y="498.3" width="3.30" height="7.7" fill="#f5586b"/>
<rect x="944.12" y="445.0" width="3.30" height="62.7" fill="#ffffff"/>
<rect x="948.54" y="444.2" width="3.30" height="11.8" fill="#f5586b"/>
<rect x="952.96" y="455.2" width="3.30" height="2.3" fill="#f5586b"/>
<rect x="957.37" y="448.0" width="3.30" height="9.5" fill="#ffffff"/>
<rect x="961.79" y="449.0" width="3.30" height="10.8" fill="#f5586b"/>
<rect x="966.20" y="459.0" width="3.30" height="16.0" fill="#f5586b"/>
<rect x="970.62" y="458.2" width="3.30" height="16.8" fill="#ffffff"/>
<rect x="975.04" y="445.0" width="3.30" height="17.2" fill="#ffffff"/>
<rect x="979.45" y="445.6" width="3.30" height="13.4" fill="#f5586b"/>
<rect x="983.87" y="441.7" width="3.30" height="16.3" fill="#ffffff"/>
<rect x="988.28" y="419.0" width="3.30" height="24.3" fill="#ffffff"/>
<rect x="992.70" y="416.7" width="3.30" height="15.6" fill="#f5586b"/>
<rect x="997.12" y="431.5" width="3.30" height="31.3" fill="#f5586b"/>
<rect x="1001.53" y="457.3" width="3.30" height="4.7" fill="#ffffff"/>
<rect x="1005.95" y="457.3" width="3.30" height="20.3" fill="#f5586b"/>
<rect x="1010.36" y="457.3" width="3.30" height="22.7" fill="#ffffff"/>
<rect x="1014.78" y="440.0" width="3.30" height="17.3" fill="#ffffff"/>
<rect x="1019.20" y="416.7" width="3.30" height="23.3" fill="#ffffff"/>
<rect x="1023.61" y="399.5" width="3.30" height="18.0" fill="#ffffff"/>
<rect x="1028.03" y="397.2" width="3.30" height="4.8" fill="#f5586b"/>
<rect x="1032.44" y="400.3" width="3.30" height="2.4" fill="#ffffff"/>
<rect x="1036.86" y="394.0" width="3.30" height="9.4" fill="#ffffff"/>
<rect x="1041.28" y="394.0" width="3.30" height="11.8" fill="#f5586b"/>
<rect x="1045.69" y="403.4" width="3.30" height="1.6" fill="#ffffff"/>
<rect x="1050.11" y="403.4" width="3.30" height="17.2" fill="#f5586b"/>
<rect x="1054.52" y="395.6" width="3.30" height="25.8" fill="#ffffff"/>
<rect x="1058.94" y="393.3" width="3.30" height="9.4" fill="#f5586b"/>
<rect x="1063.36" y="387.5" width="3.30" height="15.2" fill="#ffffff"/>
<rect x="1067.77" y="387.8" width="3.30" height="8.6" fill="#f5586b"/>
<rect x="1072.19" y="375.0" width="3.30" height="21.4" fill="#ffffff"/>
<rect x="1076.60" y="373.8" width="3.30" height="1.6" fill="#ffffff"/>
<rect x="1081.02" y="360.0" width="3.30" height="12.7" fill="#ffffff"/>
<rect x="1085.44" y="358.5" width="3.30" height="4.0" fill="#f5586b"/>
<rect x="1089.85" y="349.2" width="3.30" height="13.3" fill="#ffffff"/>
<rect x="1094.27" y="347.2" width="3.30" height="2.5" fill="#ffffff"/>
<rect x="1098.68" y="343.0" width="3.30" height="2.3" fill="#ffffff"/>
<rect x="1103.10" y="324.7" width="3.30" height="21.3" fill="#ffffff"/>
<rect x="1107.52" y="320.3" width="3.30" height="3.1" fill="#ffffff"/>
<rect x="1111.93" y="301.8" width="3.30" height="22.2" fill="#ffffff"/>
<rect x="1116.35" y="273.8" width="3.30" height="28.2" fill="#ffffff"/>
<rect x="1120.76" y="273.0" width="3.30" height="23.6" fill="#f5586b"/>
<rect x="1125.18" y="278.2" width="3.30" height="21.2" fill="#ffffff"/>
<rect x="1129.60" y="277.5" width="3.30" height="4.7" fill="#ffffff"/>
<rect x="1134.01" y="244.8" width="3.30" height="35.2" fill="#ffffff"/>
<rect x="1138.43" y="244.8" width="3.30" height="11.0" fill="#f5586b"/>
<rect x="1142.84" y="246.4" width="3.30" height="7.8" fill="#ffffff"/>
<rect x="1147.26" y="243.3" width="3.30" height="34.4" fill="#f5586b"/>
<rect x="1151.68" y="275.3" width="3.30" height="10.2" fill="#f5586b"/>
<rect x="1156.09" y="284.0" width="3.30" height="2.0" fill="#ffffff"/>
</g>
<line x1="521.8" y1="654.8" x2="1189.6" y2="546.4" stroke="#356af2" stroke-width="2.2" stroke-linecap="round"/>
<line x1="9.9" y1="-5.0" x2="9.9" y2="727.5" stroke="#79797b" stroke-width="1" stroke-dasharray="6.2 7.11"/>
<line x1="-3.9" y1="285.4" x2="1187" y2="285.4" stroke="#79797b" stroke-width="1" stroke-dasharray="6.3 7.01"/>
<text x="8.7" y="21.6" font-size="18.4" fill="#cfcfd1" textLength="129.2" lengthAdjust="spacing">Toncoin/Tether</text>
<text x="145" y="21.6" font-size="18.4" fill="#cfcfd1" text-anchor="middle">·</text>
<text x="153" y="21.6" font-size="18.4" fill="#cfcfd1" textLength="21.4" lengthAdjust="spacing">1h</text>
<text x="182.4" y="21.6" font-size="18.4" fill="#cfcfd1" text-anchor="middle">·</text>
<text x="190.4" y="21.6" font-size="18.4" fill="#cfcfd1" textLength="38.2" lengthAdjust="spacing">OKX</text>
<text x="248.8" y="20.9" font-size="15.7" fill="#c2c2c4" textLength="11.2" lengthAdjust="spacingAndGlyphs">O</text>
<text x="262.6" y="20.9" font-size="16.2" fill="#f0566a" textLength="42.6" lengthAdjust="spacing">1.536</text>
<text x="312.6" y="20.9" font-size="15.7" fill="#c2c2c4" textLength="11.4" lengthAdjust="spacingAndGlyphs">H</text>
<text x="326.6" y="20.9" font-size="16.2" fill="#f0566a" textLength="42.6" lengthAdjust="spacing">1.544</text>
<text x="376.8" y="20.9" font-size="15.7" fill="#c2c2c4" textLength="8.2" lengthAdjust="spacingAndGlyphs">L</text>
<text x="388.6" y="20.9" font-size="16.2" fill="#f0566a" textLength="42.0" lengthAdjust="spacing">1.532</text>
<text x="437.4" y="20.9" font-size="15.7" fill="#c2c2c4" textLength="10.8" lengthAdjust="spacingAndGlyphs">C</text>
<text x="451.6" y="20.9" font-size="16.2" fill="#f0566a" textLength="42.0" lengthAdjust="spacing">1.535</text>
<rect x="1217.5" y="0.5" width="59" height="30.5" rx="4.5" ry="4.5" fill="#111111" stroke="#4a4a4a" stroke-width="1.4"/>
<text x="1222.4" y="21" font-size="14.4" fill="#e6e6e8" textLength="38.2" lengthAdjust="spacing">USDT</text>
<path d="M1265.9 15.3 L1268.5 17.7 L1271.1 15.3" fill="none" stroke="#e6e6e8" stroke-width="1.7" stroke-linecap="round" stroke-linejoin="round"/>
<text class="ax" x="1223.8" y="62.3" textLength="39.2" lengthAdjust="spacing">1.720</text>
<text class="ax" x="1223.8" y="100.7" textLength="39.2" lengthAdjust="spacing">1.700</text>
<text class="ax" x="1223.8" y="139.4" textLength="39.2" lengthAdjust="spacing">1.680</text>
<text class="ax" x="1223.8" y="178.7" textLength="39.2" lengthAdjust="spacing">1.660</text>
<text class="ax" x="1223.8" y="218.4" textLength="39.2" lengthAdjust="spacing">1.640</text>
<text class="ax" x="1223.8" y="258.6" textLength="39.2" lengthAdjust="spacing">1.620</text>
<text class="ax" x="1223.8" y="299.3" textLength="39.2" lengthAdjust="spacing">1.600</text>
<text class="ax" x="1223.8" y="340.5" textLength="39.2" lengthAdjust="spacing">1.580</text>
<text class="ax" x="1223.8" y="382.2" textLength="39.2" lengthAdjust="spacing">1.560</text>
<text class="ax" x="1223.8" y="424.5" textLength="39.2" lengthAdjust="spacing">1.540</text>
<text class="ax" x="1223.8" y="467.3" textLength="39.2" lengthAdjust="spacing">1.520</text>
<text class="ax" x="1223.8" y="510.7" textLength="39.2" lengthAdjust="spacing">1.500</text>
<text class="ax" x="1223.8" y="554.7" textLength="39.2" lengthAdjust="spacing">1.480</text>
<text class="ax" x="1223.8" y="599.2" textLength="39.2" lengthAdjust="spacing">1.460</text>
<text class="ax" x="1223.8" y="644.4" textLength="39.2" lengthAdjust="spacing">1.440</text>
<text class="ax" x="1223.8" y="681.0" textLength="39.2" lengthAdjust="spacing">1.424</text>
<text class="ax" x="1223.8" y="718.1" textLength="39.2" lengthAdjust="spacing">1.408</text>
<rect x="1186.6" y="272.5" width="83.2" height="25.8" rx="2.5" ry="2.5" fill="#3f434e"/>
<rect x="1211.6" y="272.5" width="1" height="25.8" fill="#1c1e26"/>
<circle cx="1199.5" cy="285.3" r="8.6" fill="none" stroke="#ffffff" stroke-width="1.3"/>
<path d="M1195 285.3 H1204 M1199.5 280.8 V289.8" stroke="#ffffff" stroke-width="1.3" fill="none"/>
<text x="1223.9" y="290.8" font-size="14" fill="#ffffff" stroke="#ffffff" stroke-width="0.25" textLength="39.2" lengthAdjust="spacing">1.604</text>
<path d="M11.1 692.75 H25.75 V710.75 H18 V700.25 H11.1 Z" fill="#e9e9e9"/>
<circle cx="31.75" cy="696.4" r="3.6" fill="#e9e9e9"/>
<path d="M39.5 692.75 H47.25 L40 710.75 H32 Z" fill="#e9e9e9"/>
<text x="559.3" y="706.5" font-size="10" font-weight="bold" fill="#e4e4e4" textLength="87.8" lengthAdjust="spacingAndGlyphs">t.me/BinanceKillers</text>
<text class="tm" x="194.8" y="750.4" text-anchor="middle" textLength="17" lengthAdjust="spacing">19</text>
<text class="tm" x="300.8" y="750.4" text-anchor="middle" textLength="17" lengthAdjust="spacing">20</text>
<text class="tm" x="406.8" y="750.4" text-anchor="middle" textLength="17" lengthAdjust="spacing">21</text>
<text x="512.8" y="750.4" font-size="14" font-weight="bold" fill="#f0f0f0" text-anchor="middle" textLength="17" lengthAdjust="spacing">22</text>
<text class="tm" x="618.8" y="750.4" text-anchor="middle" textLength="17" lengthAdjust="spacing">23</text>
<text class="tm" x="724.8" y="750.4" text-anchor="middle" textLength="17" lengthAdjust="spacing">24</text>
<text class="tm" x="830.8" y="750.4" text-anchor="middle" textLength="17" lengthAdjust="spacing">25</text>
<text class="tm" x="936.8" y="750.4" text-anchor="middle" textLength="17" lengthAdjust="spacing">26</text>
<text class="tm" x="1042.8" y="750.4" text-anchor="middle" textLength="17" lengthAdjust="spacing">27</text>
<text class="tm" x="1148.8" y="750.4" text-anchor="middle" textLength="17" lengthAdjust="spacing">28</text>
<path d="M0 727.8 H181 V754.4 Q181 756.6 178.8 756.6 H0 Z" fill="#3c3f4a"/>
<text x="7.4" y="750" font-size="14.2" fill="#f4f4f4" textLength="108.8" lengthAdjust="spacing">Wed 17 Dec '25</text>
<text x="129.8" y="750" font-size="14.2" fill="#f4f4f4" textLength="40" lengthAdjust="spacing">06:00</text>
<circle cx="1158.1" cy="712.9" r="12.35" fill="none" stroke="#b54fc9" stroke-width="1.7"/>
<path d="M1160.9 707.0 L1154.5 713.4 L1161.3 712.5 L1155.0 718.8" fill="none" stroke="#b54fc9" stroke-width="1.7" stroke-linejoin="round" stroke-linecap="round"/>
<circle cx="1166.1" cy="704.3" r="4.9" fill="#111111"/>
<circle cx="1166.1" cy="704.3" r="3.05" fill="#f04a52"/>
<path d="M1239.6 745.3 L1243.7 738.1 H1251.9 L1256.0 745.3 L1251.9 752.5 H1243.7 Z" fill="none" stroke="#d6d6d8" stroke-width="1.4" stroke-linejoin="round"/>
<circle cx="1247.8" cy="745.3" r="2.3" fill="none" stroke="#d6d6d8" stroke-width="1.4"/>
<rect x="0" y="761.6" width="1280" height="1.3" fill="#353535"/>
</svg>
</body></html>
